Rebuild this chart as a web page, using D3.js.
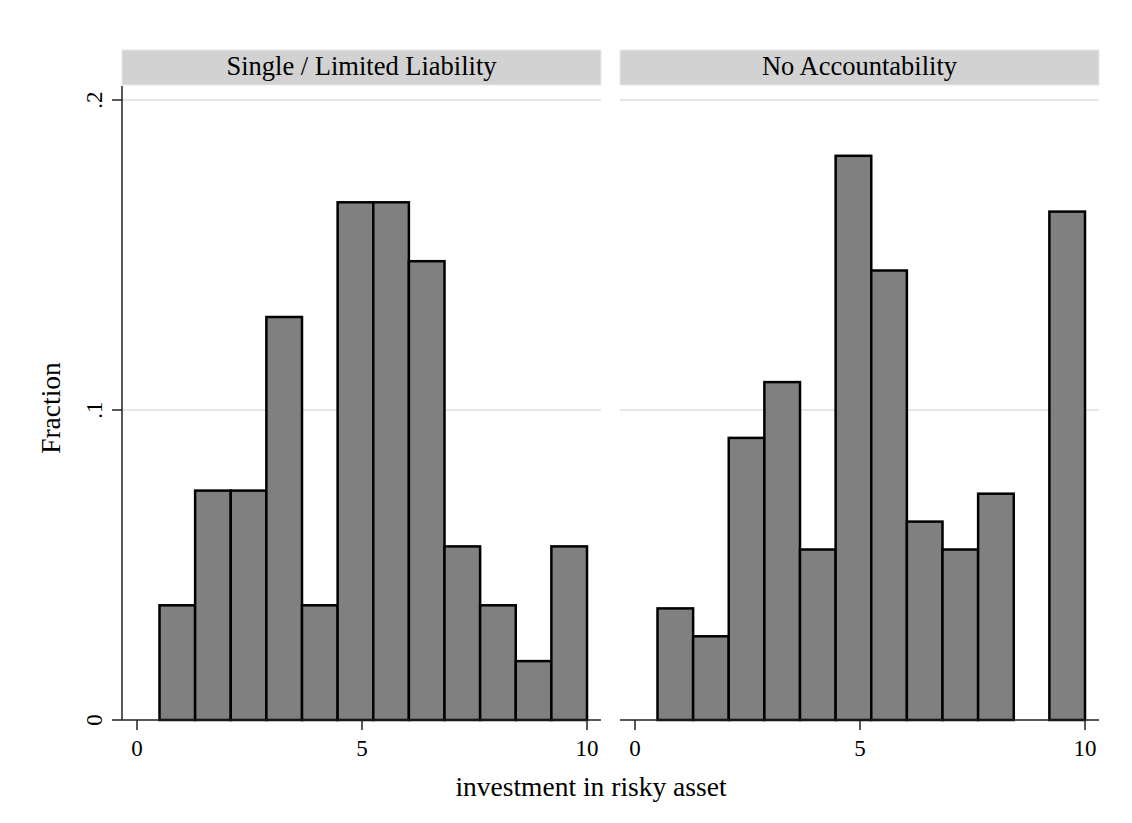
<!DOCTYPE html>
<meta charset="utf-8">
<script src="https://d3js.org/d3.v7.min.js"></script>
<style>
  body { margin: 0; background: #fff; }
  text { font-family: "Liberation Serif", "Times New Roman", serif; fill: #000; }
</style>
<div id="my_dataviz"></div>
<script>
// panel titles
var panels = ["Single / Limited Liability", "No Accountability"];

// histogram bins: start, width
var binStart = 0.5;
var binWidth = 9.5 / 12;

// fractions per bin
var singleLimited = [0.037, 0.074, 0.074, 0.130, 0.037, 0.167, 0.167, 0.148, 0.056, 0.037, 0.019, 0.056];
var noAccount     = [0.036, 0.027, 0.091, 0.109, 0.055, 0.182, 0.145, 0.064, 0.055, 0.073, 0, 0.164];

var xTicks = [0, 5, 10];
var yTicks = [0, 0.1, 0.2];
var yTickLabels = ["0", ".1", ".2"];

var series = [singleLimited, noAccount];

// layout
var W = 1132, H = 823;
var panelLeft = [122, 620], panelWidth = 479;
var plotBottom = 720, plotTop = 100;

var svg = d3.select("#my_dataviz")
  .append("svg")
    .attr("width", W)
    .attr("height", H);

var y = d3.scaleLinear().domain([0, 0.2]).range([plotBottom, plotTop]);

panels.forEach(function(name, p) {
  var px = panelLeft[p];
  var x = d3.scaleLinear().domain([0, 10]).range([px + 15, px + 465]);
  var g = svg.append("g");

  // strip header
  g.append("rect")
    .attr("x", px).attr("y", 50)
    .attr("width", panelWidth).attr("height", 35)
    .attr("fill", "#d2d2d2")
    .attr("stroke", "#e2eaf0")
    .attr("stroke-width", 1);
  g.append("text")
    .attr("x", px + panelWidth / 2).attr("y", 75)
    .attr("text-anchor", "middle")
    .attr("font-size", "26.5px")
    .text(name);

  // gridlines
  g.selectAll(".grid")
    .data(yTicks.filter(function(d){ return d > 0; }))
    .enter().append("line")
      .attr("x1", px).attr("x2", px + panelWidth)
      .attr("y1", function(d){ return y(d); })
      .attr("y2", function(d){ return y(d); })
      .attr("stroke", "#e6e6e6")
      .attr("stroke-width", 2);

  // bars
  var bins = series[p].map(function(v, i){
    return {x0: binStart + i * binWidth, x1: binStart + (i + 1) * binWidth, v: v};
  }).filter(function(d){ return d.v > 0; });

  g.selectAll(".bar")
    .data(bins)
    .enter().append("rect")
      .attr("x", function(d){ return x(d.x0); })
      .attr("y", function(d){ return y(d.v); })
      .attr("width", function(d){ return x(d.x1) - x(d.x0); })
      .attr("height", function(d){ return y(0) - y(d.v); })
      .attr("fill", "#808080")
      .attr("stroke", "#000")
      .attr("stroke-width", 2.5);

  // x axis
  g.append("line")
    .attr("x1", px).attr("x2", px + panelWidth)
    .attr("y1", plotBottom).attr("y2", plotBottom)
    .attr("stroke", "#222").attr("stroke-width", 1.5);
  g.selectAll(".xtick")
    .data(xTicks)
    .enter().append("line")
      .attr("x1", function(d){ return x(d); })
      .attr("x2", function(d){ return x(d); })
      .attr("y1", plotBottom).attr("y2", plotBottom + 10)
      .attr("stroke", "#222").attr("stroke-width", 1.5);
  g.selectAll(".xlab")
    .data(xTicks)
    .enter().append("text")
      .attr("x", function(d){ return x(d); })
      .attr("y", plotBottom + 36)
      .attr("text-anchor", "middle")
      .attr("font-size", "23px")
      .text(function(d){ return d; });

  // y axis only on first panel
  if (p === 0) {
    g.append("line")
      .attr("x1", px).attr("x2", px)
      .attr("y1", 86).attr("y2", plotBottom)
      .attr("stroke", "#222").attr("stroke-width", 1.5);
    g.selectAll(".ytick")
      .data(yTicks)
      .enter().append("line")
        .attr("x1", px - 10).attr("x2", px)
        .attr("y1", function(d){ return y(d); })
        .attr("y2", function(d){ return y(d); })
        .attr("stroke", "#222").attr("stroke-width", 1.5);
    g.selectAll(".ylab")
      .data(yTicks)
      .enter().append("text")
        .attr("transform", function(d){ return "translate(" + (px - 20) + "," + y(d) + ") rotate(-90)"; })
        .attr("text-anchor", "middle")
        .attr("font-size", "23px")
        .text(function(d, i){ return yTickLabels[i]; });
  }
});

// axis titles
svg.append("text")
  .attr("x", 591).attr("y", 796)
  .attr("text-anchor", "middle")
  .attr("font-size", "27.5px")
  .text("investment in risky asset");

svg.append("text")
  .attr("transform", "translate(60,408) rotate(-90)")
  .attr("text-anchor", "middle")
  .attr("font-size", "27.5px")
  .text("Fraction");
</script>
